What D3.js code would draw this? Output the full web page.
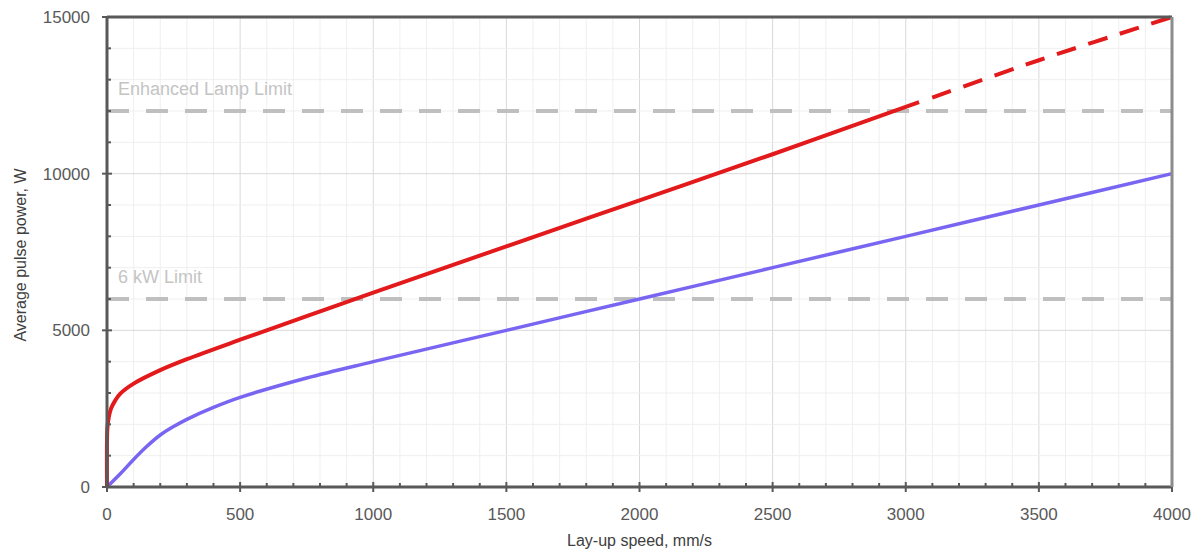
<!DOCTYPE html>
<html>
<head>
<meta charset="utf-8">
<script src="https://cdn.jsdelivr.net/npm/d3@7"></script>
<style>
  body { margin: 0; background: #fff; }
  svg text { font-family: "Liberation Sans", Arial, sans-serif; }
</style>
</head>
<body>
<svg id="chart" width="1192" height="554"></svg>
<script>
// dados
var redSpeed = [0, 1, 5, 15, 30, 50, 100, 200, 300, 500, 750, 1000, 1500, 2000, 2500, 3000, 3050];
var redPower = [0, 1800, 2150, 2500, 2750, 2980, 3300, 3730, 4080, 4700, 5450, 6200, 7680, 9150, 10620, 12130, 12280];
var redDashSpeed = [3050, 3500, 4000];
var redDashPower = [12280, 13620, 15000];
var blueSpeed = [0, 50, 100, 150, 200, 250, 300, 400, 500, 750, 1000, 1500, 2000, 2500, 3000, 3500, 4000];
var bluePower = [0, 420, 880, 1300, 1660, 1930, 2160, 2540, 2860, 3480, 4000, 5000, 6000, 7000, 8000, 9000, 10000];
var limitValues = [12000, 6000];
var limitLabels = ["Enhanced Lamp Limit", "6 kW Limit"];
var xTicks = [0, 500, 1000, 1500, 2000, 2500, 3000, 3500, 4000];
var yTicks = [0, 5000, 10000, 15000];

var svg = d3.select("#chart");
// nao usar "top" (window.top)
var mLeft = 107, mRight = 1172, mTop = 17, mBottom = 487;

var x = d3.scaleLinear().domain([0, 4000]).range([mLeft, mRight]);
var y = d3.scaleLinear().domain([0, 15000]).range([mBottom, mTop]);

//GRELHA
var grid = svg.append("g");
d3.range(0, 4001, 100).forEach(function (v) {
    grid.append("line")
        .attr("x1", x(v)).attr("x2", x(v))
        .attr("y1", mTop).attr("y2", mBottom)
        .attr("stroke", v % 500 == 0 ? "#d9d9d9" : "#efefef")
        .attr("stroke-width", 1);
})
d3.range(0, 15001, 1000).forEach(function (v) {
    grid.append("line")
        .attr("x1", mLeft).attr("x2", mRight)
        .attr("y1", y(v)).attr("y2", y(v))
        .attr("stroke", v % 5000 == 0 ? "#d9d9d9" : "#efefef")
        .attr("stroke-width", 1);
})

//LIMITES
limitValues.forEach(function (v, i) {
    svg.append("line")
        .attr("x1", mLeft).attr("x2", mRight)
        .attr("y1", y(v)).attr("y2", y(v))
        .attr("stroke", "#bfbfbf")
        .attr("stroke-width", 4)
        .attr("stroke-dasharray", "22,17");
    svg.append("text")
        .text(limitLabels[i])
        .attr("x", 118)
        .attr("y", y(v) - 16)
        .attr("font-size", "18px")
        .attr("fill", "#c4c4c4");
})

//CURVAS
var line = d3.line()
    .x(function (d) { return x(d[0]); })
    .y(function (d) { return y(d[1]); })
    .curve(d3.curveCatmullRom.alpha(0.5));

var redData = redSpeed.map(function (s, i) { return [s, redPower[i]]; });
var redDashData = redDashSpeed.map(function (s, i) { return [s, redDashPower[i]]; });
var blueData = blueSpeed.map(function (s, i) { return [s, bluePower[i]]; });

svg.append("path").datum(blueData)
    .attr("d", line)
    .attr("fill", "none")
    .attr("stroke", "#7866f2")
    .attr("stroke-width", 3.5);

svg.append("path").datum(redData)
    .attr("d", line)
    .attr("fill", "none")
    .attr("stroke", "#e31a1c")
    .attr("stroke-width", 4);

svg.append("path").datum(redDashData)
    .attr("d", line)
    .attr("fill", "none")
    .attr("stroke", "#e31a1c")
    .attr("stroke-width", 4)
    .attr("stroke-dasharray", "0,14,20,13,20,13,20,13,20,13,20,13,20,13,20,13,20,13,20,13");

//EIXOS
var xAxis = svg.append("g").attr("transform", "translate(0," + mBottom + ")");
d3.range(0, 4001, 100).forEach(function (v) {
    var major = v % 500 == 0;
    xAxis.append("line")
        .attr("x1", x(v)).attr("x2", x(v))
        .attr("y1", major ? -5 : -4).attr("y2", major ? 5 : 0)
        .attr("stroke", "#595959").attr("stroke-width", 2);
})
xAxis.append("line")
    .attr("x1", mLeft).attr("x2", mRight)
    .attr("stroke", "#595959").attr("stroke-width", 3);
xTicks.forEach(function (v) {
    xAxis.append("text")
        .text(v)
        .attr("x", x(v)).attr("y", 33)
        .attr("text-anchor", "middle")
        .attr("font-size", "17px")
        .attr("fill", "#595959");
})

var yAxis = svg.append("g").attr("transform", "translate(" + mLeft + ",0)");
d3.range(0, 15001, 1000).forEach(function (v) {
    var major = v % 5000 == 0;
    yAxis.append("line")
        .attr("x1", major ? -5 : 0).attr("x2", major ? 5 : 4)
        .attr("y1", y(v)).attr("y2", y(v))
        .attr("stroke", "#595959").attr("stroke-width", 2);
})
yAxis.append("line")
    .attr("y1", mTop).attr("y2", mBottom)
    .attr("stroke", "#595959").attr("stroke-width", 3);
yTicks.forEach(function (v) {
    yAxis.append("text")
        .text(v)
        .attr("x", -17).attr("y", y(v) + 6)
        .attr("text-anchor", "end")
        .attr("font-size", "17px")
        .attr("fill", "#595959");
})

//BORDAS
svg.append("line")
    .attr("x1", mLeft).attr("x2", mRight)
    .attr("y1", mTop).attr("y2", mTop)
    .attr("stroke", "#595959").attr("stroke-width", 3);
svg.append("line")
    .attr("x1", mRight).attr("x2", mRight)
    .attr("y1", mTop).attr("y2", mBottom)
    .attr("stroke", "#8c8c8c").attr("stroke-width", 3);

//TITULOS
svg.append("text")
    .text("Lay-up speed, mm/s")
    .attr("x", (mLeft + mRight) / 2).attr("y", 546)
    .attr("text-anchor", "middle")
    .attr("font-size", "16px")
    .attr("fill", "#404040");
svg.append("text")
    .text("Average pulse power, W")
    .attr("transform", "translate(26,255) rotate(-90)")
    .attr("text-anchor", "middle")
    .attr("font-size", "16px")
    .attr("fill", "#404040");
</script>
</body>
</html>
